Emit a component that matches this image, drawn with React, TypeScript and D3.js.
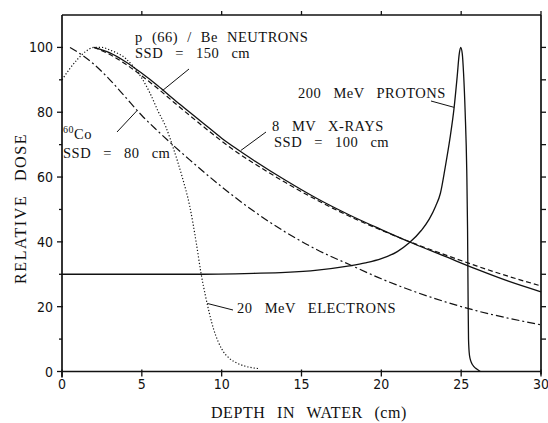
import React from "react";
import * as d3 from "d3";

// depth (cm), relative dose
const neutrons: [number, number][] = [
  [2, 100], [3, 98.3], [4, 95.5], [5, 92], [6, 88.2], [7, 84], [8, 80], [9, 76],
  [10, 72], [11, 68.5], [12, 65.2], [14, 59], [16, 53.3], [18, 48.3], [20, 43.8],
  [22, 39.5], [24, 35.5], [26, 31.5], [28, 27.8], [30, 24.6],
];
const xrays: [number, number][] = [
  [2, 100], [3, 97.8], [4, 94.8], [5, 91.2], [6, 87.3], [7, 83.1], [8, 79], [9, 75],
  [10, 71.1], [11, 67.5], [12, 64.3], [14, 58.3], [16, 52.8], [18, 47.9], [20, 43.6],
  [22, 39.6], [24, 36], [26, 32.5], [28, 29.3], [30, 26.4],
];
const cobalt: [number, number][] = [
  [0.5, 100], [1, 98.5], [2, 94.8], [3, 90], [4, 84.5], [5, 79], [6, 74.2], [8, 65.3],
  [10, 57], [12, 49.5], [14, 43], [16, 37.5], [18, 33], [20, 28.6], [22, 24.8],
  [24, 21.5], [26, 18.7], [28, 16.4], [30, 14.4],
];
const electrons: [number, number][] = [
  [0, 90], [0.5, 93.5], [1, 96.5], [1.5, 98.8], [2, 100], [2.5, 100], [3, 99.2],
  [4, 96.5], [5, 90.5], [5.5, 86], [6, 80.5], [6.5, 75.5], [7, 68.5], [7.5, 60.5],
  [8, 51], [8.4, 40], [8.7, 30.5], [9, 23], [9.5, 13], [10, 7], [10.5, 4],
  [11, 2.5], [11.5, 1.6], [12, 1.1], [12.3, 0.9],
];
const protons: [number, number][] = [
  [0, 30], [4, 30], [8, 30], [12, 30.3], [14, 30.6], [16, 31.3], [18, 32.6], [19, 33.5],
  [20, 34.8], [21, 37], [21.75, 39.7], [22.5, 43.5], [23, 47], [23.4, 51], [23.7, 55],
  [24, 63], [24.3, 72], [24.56, 81.5], [24.75, 91], [24.88, 98], [24.97, 100],
  [25.07, 98], [25.15, 92], [25.25, 80], [25.35, 62], [25.4, 44], [25.43, 25],
  [25.46, 10], [25.52, 5], [25.62, 3], [25.8, 1.5], [26, 0.7], [26.2, 0],
];

const xTicks = [0, 5, 10, 15, 20, 25, 30];
const yTicks = [0, 20, 40, 60, 80, 100];
const yMinor = [10, 30, 50, 70, 90];
const rightTicks = [10, 20, 30, 40, 50, 60, 70, 80, 90, 100];

const serif = "'Liberation Serif', 'Times New Roman', serif";
const narrow = "'Liberation Sans Narrow', 'DejaVu Sans Condensed', sans-serif";
const ink = "#111";

export default function App() {
  const W = 548, H = 423;
  const x = d3.scaleLinear().domain([0, 30]).range([62, 541]);
  const y = d3.scaleLinear().domain([0, 110]).range([371.5, 15]);
  const line = d3.line<[number, number]>()
    .x(d => x(d[0]))
    .y(d => y(d[1]))
    .curve(d3.curveMonotoneX);

  const x0 = x(0), x1 = x(30), y0 = y(0), y1 = y(110);

  return (
    <svg width={W} height={H} style={{ position: "absolute", left: 0, top: 0, background: "#fff" }}>
      {/* frame */}
      <g stroke={ink} strokeWidth={1.7} fill="none">
        <line x1={x0} y1={y0} x2={x1} y2={y0} />
        <line x1={x0} y1={y0 + 6} x2={x0} y2={y1} />
        <line x1={x0} y1={y1} x2={x1} y2={y1} />
        <line x1={x1} y1={y0 + 3} x2={x1} y2={y1} />
      </g>
      {/* ticks */}
      <g stroke={ink} strokeWidth={1.3}>
        {xTicks.map(t => <line key={"b" + t} x1={x(t)} y1={y0 - 2} x2={x(t)} y2={y0 + 5} />)}
        {xTicks.slice(1).map(t => <line key={"t" + t} x1={x(t)} y1={y1} x2={x(t)} y2={y1 - 4} />)}
        {yTicks.map(t => <line key={"l" + t} x1={x0 - 5} y1={y(t)} x2={x0 + 1} y2={y(t)} />)}
        {yMinor.map(t => <line key={"m" + t} x1={x0 - 3} y1={y(t)} x2={x0} y2={y(t)} />)}
        {rightTicks.map(t => <line key={"r" + t} x1={x1} y1={y(t)} x2={x1 + 5} y2={y(t)} />)}
      </g>
      <g fontFamily={narrow} fontSize={14} fill={ink}>
        {xTicks.map(t => (
          <text key={"xl" + t} x={x(t)} y={y0 + 17} textAnchor="middle">{t}</text>
        ))}
        {yTicks.map(t => (
          <text key={"yl" + t} x={x0 - 9} y={y(t) + 5} textAnchor="end">{t}</text>
        ))}
      </g>
      {/* axis titles */}
      <g fontFamily={serif} fontSize={16} fill={ink} style={{ wordSpacing: "7px", letterSpacing: "0.6px" }}>
        <text x={309} y={418} textAnchor="middle">DEPTH IN WATER (cm)</text>
        <text transform={`translate(26,${y(50) - 1}) rotate(-90)`} textAnchor="middle"
          style={{ letterSpacing: "1.6px", wordSpacing: "8px" }}>RELATIVE DOSE</text>
      </g>

      {/* curves */}
      <g fill="none" stroke={ink}>
        <path d={line(protons) || ""} strokeWidth={1.3} />
        <path d={line(neutrons) || ""} strokeWidth={1.3} />
        <path d={line(xrays) || ""} strokeWidth={1.2} strokeDasharray="5,3" />
        <path d={line(cobalt) || ""} strokeWidth={1.2} strokeDasharray="8,3,2,3" />
        <path d={line(electrons) || ""} strokeWidth={1.2} strokeDasharray="1.2,2" />
      </g>

      {/* annotations */}
      <g fontFamily={serif} fontSize={14.5} fill={ink} style={{ wordSpacing: "8px", letterSpacing: "0.5px" }}>
        <text x={135} y={41.5} style={{ wordSpacing: "5px", letterSpacing: "0.5px" }}>p (66) / Be  NEUTRONS</text>
        <text x={135} y={57.5}>SSD = 150 cm</text>
        <text x={298} y={98}>200 MeV PROTONS</text>
        <text x={272} y={131}>8 MV X-RAYS</text>
        <text x={274} y={146.5}>SSD = 100 cm</text>
        <text x={63} y={139}>
          <tspan fontSize={10} dy={-6}>60</tspan>
          <tspan dy={6}>Co</tspan>
        </text>
        <text x={63} y={158}>SSD = 80 cm</text>
        <text x={237} y={313}>20 MeV ELECTRONS</text>
      </g>
      <g stroke={ink} strokeWidth={1}>
        <line x1={189} y1={69} x2={x(6.3)} y2={y(86.7)} />
        <line x1={431} y1={101} x2={x(24.56)} y2={y(81.5)} />
        <line x1={266} y1={132} x2={x(11.2)} y2={y(68.2)} />
        <line x1={117} y1={132} x2={x(4.7)} y2={y(80.5)} />
        <line x1={233} y1={310} x2={x(9.1)} y2={y(21)} />
      </g>
    </svg>
  );
}
